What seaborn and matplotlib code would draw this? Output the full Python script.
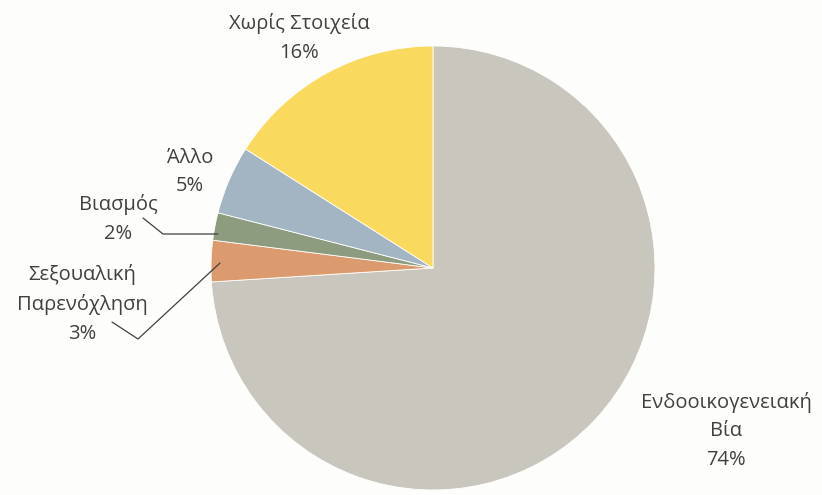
import numpy as np
import seaborn as sns
import matplotlib
matplotlib.use("Agg")
import matplotlib.pyplot as plt

# --- dane ---
categories = ["Ενδοοικογενειακή\nΒία", "Σεξουαλική\nΠαρενόχληση", "Βιασμός", "Άλλο", "Χωρίς Στοιχεία"]
values = [74, 3, 2, 5, 16]
colors = ["#C9C7BD", "#DC9B6E", "#8D9B7E", "#A3B5C2", "#F9DA5F"]

# pozycje etykiet w pikselach (x, y od góry)
label_pos = [(726, 431), (82, 304), (118, 219), (190, 172), (299, 38)]

W, H = 822, 495
BG = "#FDFDFB"

sns.set_theme(style="white")
plt.rcParams["font.family"] = ["Open Sans", "DejaVu Sans"]

fig = plt.figure(figsize=(W / 100, H / 100), dpi=100, facecolor=BG)
ax = fig.add_axes([0, 0, 1, 1], facecolor=BG)

ax.pie(values, colors=colors, startangle=90, counterclock=False,
       center=(433, H - 268), radius=222,
       wedgeprops=dict(edgecolor="white", linewidth=0.6))

ax.set_xlim(0, W)
ax.set_ylim(0, H)
ax.set_aspect("equal")
ax.axis("off")

for cat, val, (x, y) in zip(categories, values, label_pos):
    ax.text(x, H - y, f"{cat}\n{val}%", ha="center", va="center",
            fontsize=14.5, color="#404040", linespacing=1.56)

# linie odniesienia (Βιασμός, Σεξουαλική Παρενόχληση)
ax.plot([143, 163, 218], [H - 218, H - 234, H - 234], color="#404040", lw=0.9)
ax.plot([112, 138, 220], [H - 322, H - 339, H - 263], color="#404040", lw=0.9)

fig.savefig("out.png", dpi=100, facecolor=BG)
